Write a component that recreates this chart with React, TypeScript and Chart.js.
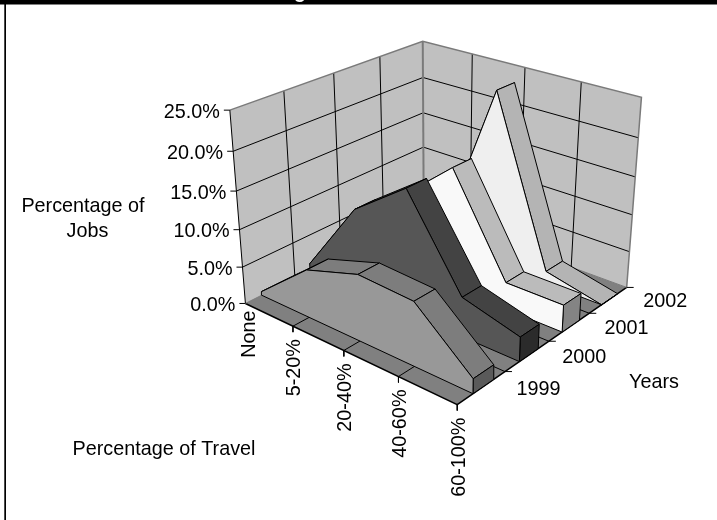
import React, { useEffect, useRef } from "react";
import { Chart, registerables } from "chart.js";

Chart.register(...registerables);

// ---- chart data (percentage of jobs) ----
const categories = ["None", "5-20%", "20-40%", "40-60%", "60-100%"];
const years = ["1999", "2000", "2001", "2002"];
const valueTicks = ["0.0%", "5.0%", "10.0%", "15.0%", "20.0%", "25.0%"];
const jobs1999 = [0.5, 6.4, 8.7, 8.3, 1.9];
const jobs2000 = [1.0, 11.2, 16.4, 5.2, 3.2];
const jobs2001 = [1.0, 10.0, 16.2, 3.6, 3.6];
const jobs2002 = [0.5, 2.6, 23.6, 1.7, 0.0];
const seriesValues = [jobs1999, jobs2000, jobs2001, jobs2002];

// ---- styling ----
const faceColors = ["#989898", "#565656", "#f9f9f9", "#efefef"];
const stripColors = ["#7d7d7d", "#434343", "#bbbbbb", "#b4b4b4"];
const capColors = ["#5a5a5a", "#2b2b2b", "#848484", "#808080"];
const WALL = "#c0c0c0";
const FLOOR = "#808080";
const EDGE = "#7a7a7a";
const SLAB_FRONT = 0.32;
const SLAB_BACK = 0.75;
const FONT = '19.8px "Liberation Sans", Arial, sans-serif';

// ---- camera calibration: [category, depth, value] -> canvas position of the 3-D box ----
const viewAnchors: number[][] = [
  [0, 0, 0, 245, 304], [1, 0, 0, 293, 325], [2, 0, 0, 344, 351], [3, 0, 0, 399, 377], [4, 0, 0, 458, 404],
  [4, 1, 0, 504, 372], [4, 2, 0, 548, 342], [4, 3, 0, 590, 313], [4, 4, 0, 627, 287],
  [0, 0, 5, 243, 267], [0, 0, 10, 240, 229], [0, 0, 15, 236, 191], [0, 0, 20, 232, 151], [0, 0, 25, 230, 111],
  [0, 1, 25, 284, 91], [0, 2, 25, 334, 73], [0, 3, 25, 380, 56], [0, 4, 25, 423, 41],
  [0, 4, 20, 423, 78], [0, 4, 15, 423, 113], [0, 4, 10, 423, 147],
  [1, 4, 25, 472, 54], [2, 4, 25, 526, 68], [3, 4, 25, 581, 82], [4, 4, 25, 641, 97],
  [4, 4, 20, 638, 137], [4, 4, 15, 636, 177], [4, 4, 10, 632, 215], [4, 4, 5, 629, 252],
];

function fitCamera(anchors: number[][]): number[] {
  const n = 11;
  const A = Array.from({ length: n }, () => new Array(n + 1).fill(0));
  const add = (row: number[], rhs: number) => {
    for (let i = 0; i < n; i++) {
      for (let j = 0; j < n; j++) A[i][j] += row[i] * row[j];
      A[i][n] += row[i] * rhs;
    }
  };
  for (const [X, Y, Zr, u, v] of anchors) {
    const Z = Zr / 6.25;
    add([X, Y, Z, 1, 0, 0, 0, 0, -u * X, -u * Y, -u * Z], u);
    add([0, 0, 0, 0, X, Y, Z, 1, -v * X, -v * Y, -v * Z], v);
  }
  for (let c = 0; c < n; c++) {
    let p = c;
    for (let r = c + 1; r < n; r++) if (Math.abs(A[r][c]) > Math.abs(A[p][c])) p = r;
    [A[c], A[p]] = [A[p], A[c]];
    for (let r = 0; r < n; r++) {
      if (r === c) continue;
      const f = A[r][c] / A[c][c];
      for (let k = c; k <= n; k++) A[r][k] -= f * A[c][k];
    }
  }
  return A.map((row, i) => row[n] / row[i]);
}

const cam = fitCamera(viewAnchors);
type P3 = [number, number, number];
function project([X, Y, Zr]: P3) {
  const Z = Zr / 6.25;
  const w = cam[8] * X + cam[9] * Y + cam[10] * Z + 1;
  return {
    x: (cam[0] * X + cam[1] * Y + cam[2] * Z + cam[3]) / w,
    y: (cam[4] * X + cam[5] * Y + cam[6] * Z + cam[7]) / w,
  };
}

function shape(pts: P3[], fill: string | null, stroke: string | null = "#000", width = 1) {
  const data = pts.map(project);
  if (fill) data.push(data[0]);
  return line2d(data, fill, stroke, width);
}
function line2d(data: { x: number; y: number }[], fill: string | null, stroke: string | null, width = 1) {
  return {
    data,
    showLine: true,
    tension: 0,
    pointRadius: 0,
    borderWidth: stroke ? width : 0,
    borderColor: stroke || "rgba(0,0,0,0)",
    borderJoinStyle: "miter",
    backgroundColor: fill || "rgba(0,0,0,0)",
    fill: fill ? "shape" : false,
    clip: false,
  };
}

function buildDatasets() {
  const painted: any[] = [];
  const nCat = categories.length - 1;
  const nDepth = years.length;
  const top = 25;
  // walls and floor
  painted.push(shape([[0, 0, 0], [0, nDepth, 0], [0, nDepth, top], [0, 0, top]], WALL, null));
  painted.push(shape([[0, nDepth, 0], [nCat, nDepth, 0], [nCat, nDepth, top], [0, nDepth, top]], WALL, null));
  painted.push(shape([[0, 0, 0], [nCat, 0, 0], [nCat, nDepth, 0], [0, nDepth, 0]], FLOOR, null));
  // wall grid
  for (let t = 5; t < top; t += 5) {
    painted.push(shape([[0, 0, t], [0, nDepth, t], [nCat, nDepth, t]], null));
  }
  for (let d = 1; d < nDepth; d++) painted.push(shape([[0, d, 0], [0, d, top]], null));
  for (let c = 1; c < nCat; c++) painted.push(shape([[c, nDepth, 0], [c, nDepth, top]], null));
  // floor grid
  for (let d = 1; d < nDepth; d++) painted.push(shape([[0, d, 0], [nCat, d, 0]], null));
  for (let c = 1; c < nCat; c++) painted.push(shape([[c, 0, 0], [c, nDepth, 0]], null));
  // box edges
  painted.push(shape([[0, nDepth, 0], [0, nDepth, top]], null, EDGE, 2));
  painted.push(shape([[0, 0, top], [0, nDepth, top], [nCat, nDepth, top], [nCat, nDepth, 0]], null, EDGE, 1.5));
  painted.push(shape([[0, 0, top], [0, 0, 0]], null, "#000", 1));
  painted.push(shape([[0, 0, 0], [nCat, 0, 0], [nCat, nDepth, 0]], null, "#000", 1.5));
  painted.push(shape([[0, nDepth, 0], [nCat, nDepth, 0]], null, EDGE, 1));
  painted.push(shape([[0, 0, 0], [0, nDepth, 0]], null, EDGE, 1));

  // slabs, back to front
  for (let s = seriesValues.length - 1; s >= 0; s--) {
    const vals = seriesValues[s];
    const f = s + SLAB_FRONT;
    const b = s + SLAB_BACK;
    for (let c = 0; c < nCat; c++) {
      painted.push(shape([[c, f, vals[c]], [c + 1, f, vals[c + 1]], [c + 1, b, vals[c + 1]], [c, b, vals[c]]], stripColors[s]));
    }
    painted.push(shape([[nCat, f, 0], [nCat, b, 0], [nCat, b, vals[nCat]], [nCat, f, vals[nCat]]], capColors[s]));
    const face: P3[] = vals.map((v, c) => [c, f, v] as P3);
    face.push([nCat, f, 0], [0, f, 0]);
    painted.push(shape(face, faceColors[s]));
  }

  // tick marks
  valueTicks.forEach((_, i) => {
    const p = project([0, 0, i * 5]);
    painted.push(line2d([{ x: p.x - 6, y: p.y }, p], null, "#000"));
  });
  categories.forEach((_, c) => {
    if (c === 0) return;
    const p = project([c, 0, 0]);
    painted.push(line2d([p, { x: p.x, y: p.y + 6 }], null, "#000"));
  });
  for (let d = 1; d <= nDepth; d++) {
    const p = project([nCat, d, 0]);
    painted.push(line2d([p, { x: p.x + 7, y: p.y }], null, "#000"));
  }
  // Chart.js paints the first dataset last
  return painted.reverse();
}

const textPlugin = {
  id: "texts",
  beforeDraw(chart: any) {
    const ctx = chart.ctx;
    ctx.save();
    ctx.fillStyle = "#fff";
    ctx.fillRect(0, 0, 717, 520);
    ctx.fillStyle = "#000";
    ctx.fillRect(0, 0, 717, 4.5);
    ctx.fillRect(4.3, 0, 1.7, 520);
    // the title is cut by the top of the picture: only a descender shows
    ctx.beginPath();
    ctx.rect(0, 0, 717, 4.5);
    ctx.clip();
    ctx.fillStyle = "#fff";
    ctx.font = 'bold 19.5px "Liberation Sans", Arial, sans-serif';
    ctx.textAlign = "center";
    ctx.textBaseline = "alphabetic";
    ctx.fillText("g", 300, -1.7);
    ctx.restore();
  },
  afterDatasetsDraw(chart: any) {
    const ctx = chart.ctx;
    ctx.save();
    ctx.fillStyle = "#000";
    ctx.font = FONT;
    ctx.textBaseline = "middle";
    ctx.textAlign = "right";
    valueTicks.forEach((t, i) => {
      const p = project([0, 0, i * 5]);
      ctx.fillText(t, p.x - 10, p.y + 2);
    });
    ctx.textAlign = "center";
    years.forEach((y, d) => {
      const p = project([categories.length - 1, d + 0.5, 0]);
      ctx.fillText(y, p.x + 57, p.y + 1.5);
    });
    categories.forEach((c, i) => {
      const p = project([i, 0, 0]);
      ctx.save();
      ctx.translate(p.x + (i === 0 ? 2 : 0), p.y + (i === 0 ? 7 : 13));
      ctx.rotate(-Math.PI / 2);
      ctx.textAlign = "right";
      ctx.fillText(c, 0, 2);
      ctx.restore();
    });
    ctx.textAlign = "center";
    ctx.fillText("Percentage of", 83, 207);
    ctx.fillText("Jobs", 87.5, 232);
    ctx.fillText("Percentage of Travel", 164, 450);
    ctx.fillText("Years", 654, 383);
    ctx.restore();
  },
};

export default function App() {
  const ref = useRef<HTMLCanvasElement>(null);
  useEffect(() => {
    document.body.style.margin = "0";
    const chart = new Chart(ref.current as HTMLCanvasElement, {
      type: "scatter",
      data: { datasets: buildDatasets() as any },
      options: {
        responsive: false,
        animation: false,
        events: [],
        layout: { padding: 0 },
        plugins: { legend: { display: false }, tooltip: { enabled: false }, title: { display: false } },
        scales: {
          x: { type: "linear", min: 0, max: 717, display: false },
          y: { type: "linear", min: 0, max: 520, reverse: true, display: false },
        },
      },
      plugins: [textPlugin],
    } as any);
    return () => chart.destroy();
  }, []);
  return <canvas ref={ref} width={717} height={520} style={{ display: "block" }} />;
}
